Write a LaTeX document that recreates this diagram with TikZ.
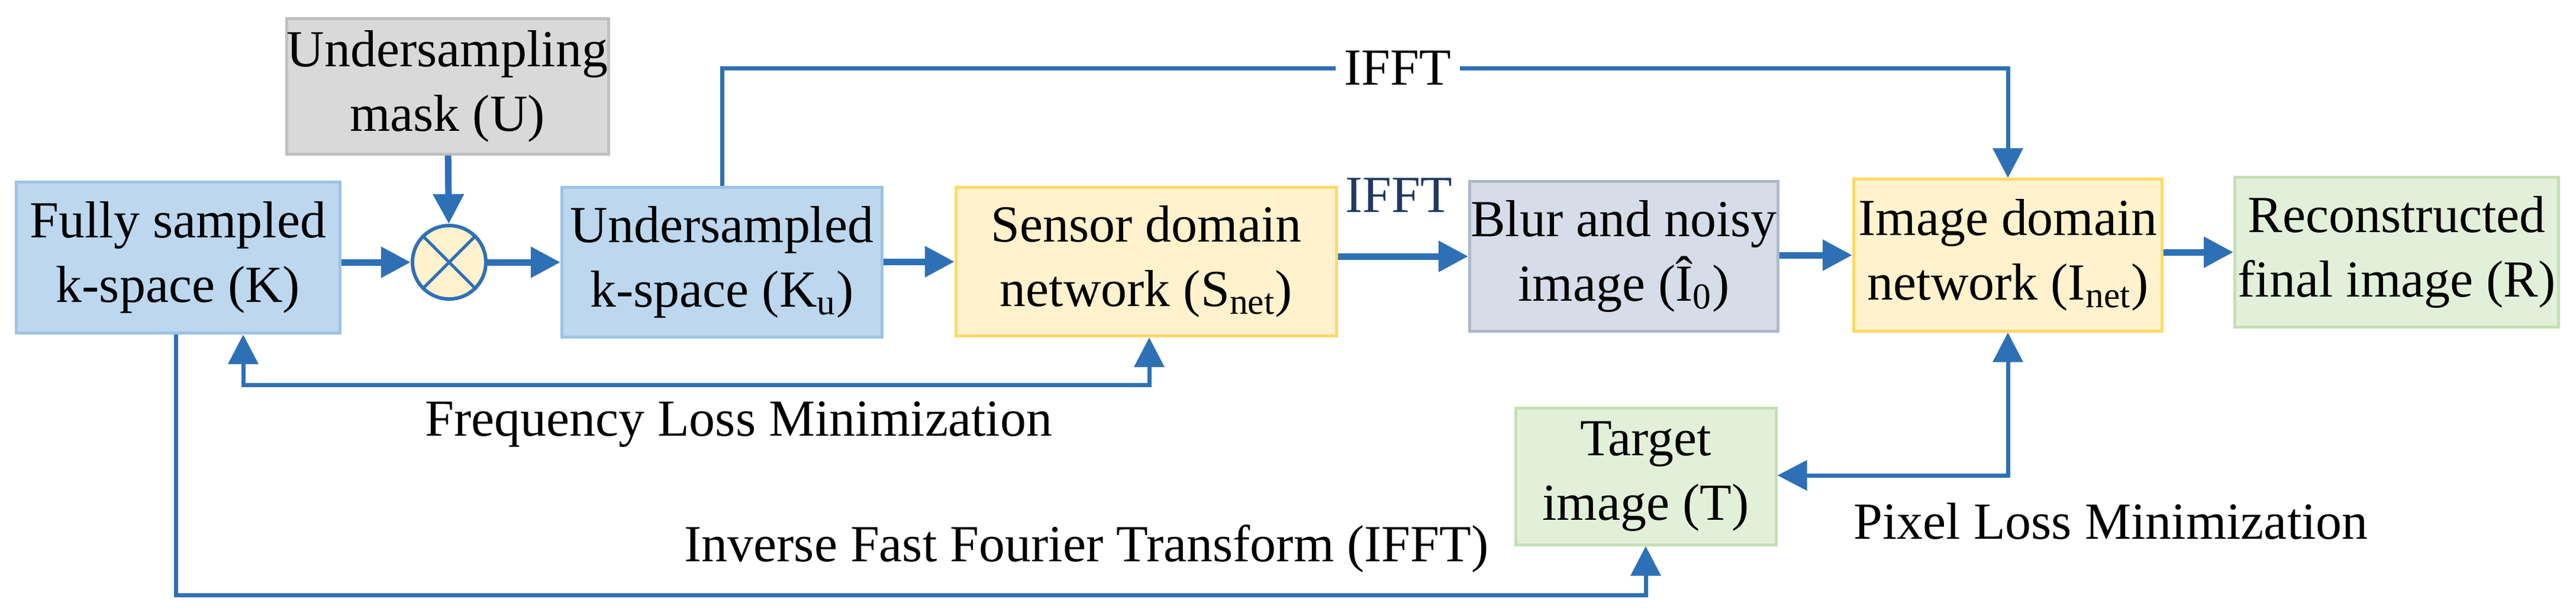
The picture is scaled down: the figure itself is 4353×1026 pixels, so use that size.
\documentclass[tikz,border=0pt]{standalone}
\usepackage{fontspec}
\setmainfont{Liberation Serif}
\usetikzlibrary{arrows.meta}
\definecolor{ab}{RGB}{46,112,182}
\begin{document}
\begin{tikzpicture}[x=0.01cm,y=-0.01cm,
  box/.style={draw,line width=0.05cm,minimum width=#1*0.01cm,align=center,inner sep=0pt,font=\fontsize{25}{31}\selectfont},
  blu/.style={box=#1,fill={rgb,255:red,189;green,215;blue,238},draw={rgb,255:red,157;green,195;blue,230}},
  gry/.style={box=#1,fill={rgb,255:red,217;green,217;blue,217},draw={rgb,255:red,191;green,191;blue,191}},
  yel/.style={box=#1,fill={rgb,255:red,255;green,242;blue,204},draw={rgb,255:red,255;green,217;blue,102}},
  grn/.style={box=#1,fill={rgb,255:red,226;green,240;blue,217},draw={rgb,255:red,197;green,224;blue,180}},
  lav/.style={box=#1,fill={rgb,255:red,214;green,220;blue,232},draw={rgb,255:red,173;green,185;blue,202}},
  arr/.style={draw=ab,line width=0.11cm,-{Triangle[length=0.5cm,width=0.5cm]}},
  thin/.style={draw=ab,line width=0.07cm},
  lbl/.style={font=\fontsize{25}{31}\selectfont,inner sep=2pt}]
\useasboundingbox (0,0) rectangle (4353,1026);
\node[blu=547,minimum height=2.55cm] (K) at (301,435) {Fully sampled\\k-space (K)};
\node[gry=544,minimum height=2.28cm] (U) at (756,146) {Undersampling\\mask (U)};
\node[circle,draw=ab,line width=0.06cm,fill={rgb,255:red,255;green,242;blue,204},minimum size=1.24cm,inner sep=0pt] (M) at (759,443) {};
\draw[ab,line width=0.05cm] (M.north west)--(M.south east) (M.north east)--(M.south west);
\node[blu=541,minimum height=2.53cm] (Ku) at (1220,443) {Undersampled\\k-space (K\textsubscript{u})};
\node[yel=643,minimum height=2.51cm] (S) at (1937,442) {Sensor domain\\network (S\textsubscript{net})};
\node[lav=521,minimum height=2.52cm] (B) at (2744,433) {Blur and noisy\\image (Î\textsubscript{0})};
\node[yel=521,minimum height=2.56cm] (I) at (3393,431) {Image domain\\network (I\textsubscript{net})};
\node[grn=547,minimum height=2.53cm] (R) at (4050,426) {Reconstructed\\final image (R)};
\node[grn=440,minimum height=2.30cm] (T) at (2781,805) {Target\\image (T)};
% main flow
\draw[arr] (K.east|-M) -- (M);
\draw[arr] (U) -- (M);
\draw[arr] (M) -- (Ku.west|-M);
\draw[arr] (Ku.east|-S) -- (S);
\draw[arr] (S.east|-B) -- (B);
\draw[arr] (B.east|-I) -- (I);
\draw[arr] (I.east|-R) -- (R);
\node[lbl,text={rgb,255:red,31;green,56;blue,100}] (ifft2) at (2364,330) {IFFT};
% top IFFT
\coordinate (t1) at (1220,115);
\coordinate (t2) at (3393,115);
\node[lbl,fill=white,inner sep=4pt] (ifft1) at (2362,115) {IFFT};
\draw[thin] (Ku.north) -- (t1) -- (ifft1.west);
\draw[thin,-{Triangle[length=0.5cm,width=0.5cm]}] (ifft1.east) -- (t2) -- (I.north);
% frequency loss
\coordinate (f1) at (411,650);
\coordinate (f2) at (1942,650);
\draw[thin,{Triangle[length=0.5cm,width=0.5cm]}-{Triangle[length=0.5cm,width=0.5cm]}] (K.south-|f1) -- (f1) -- (f2) -- (S.south-|f2);
\node[lbl] (fl) at (1248,717) {Frequency Loss Minimization};
% pixel loss
\coordinate (p1) at (3393,803);
\draw[thin,{Triangle[length=0.5cm,width=0.5cm]}-{Triangle[length=0.5cm,width=0.5cm]}] (I.south) -- (p1) -- (T.east|-p1);
\node[lbl] (pl) at (3567,880) {Pixel Loss Minimization};
% bottom IFFT
\coordinate (b1) at (297,1005);
\coordinate (b2) at (2781,1005);
\draw[thin,-{Triangle[length=0.5cm,width=0.5cm]}] (K.south-|b1) -- (b1) -- (b2) -- (T.south);
\node[lbl] (il) at (1836,927) {Inverse Fast Fourier Transform (IFFT)};
\end{tikzpicture}
\end{document}
